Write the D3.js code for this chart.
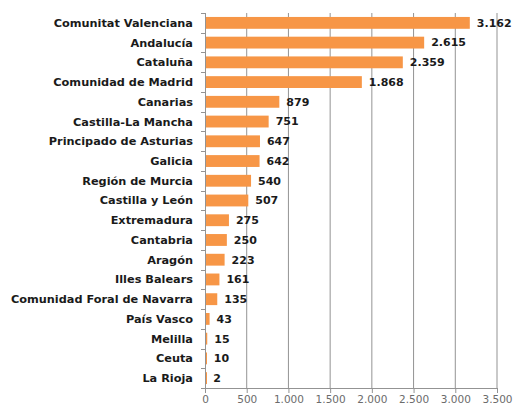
<!DOCTYPE html>
<html>
<head>
<meta charset="utf-8">
<script src="https://cdn.jsdelivr.net/npm/d3@7"></script>
<style>
  body { margin: 0; background: #fff; }
  svg { display: block; }
</style>
</head>
<body>
<div id="chart"></div>
<script>
// comunidades autónomas, de arriba a abajo
let regions = ['Comunitat Valenciana', 'Andalucía', 'Cataluña', 'Comunidad de Madrid',
               'Canarias', 'Castilla-La Mancha', 'Principado de Asturias', 'Galicia',
               'Región de Murcia', 'Castilla y León', 'Extremadura', 'Cantabria',
               'Aragón', 'Illes Balears', 'Comunidad Foral de Navarra', 'País Vasco',
               'Melilla', 'Ceuta', 'La Rioja'];

let values = [3162, 2615, 2359, 1868, 879, 751, 647, 642, 540, 507,
              275, 250, 223, 161, 135, 43, 15, 10, 2];

let xTicks = [0, 500, 1000, 1500, 2000, 2500, 3000, 3500];

const width = 515;
const height = 409;
const margin = {top: 13, right: 18, bottom: 21, left: 205};

const fmt = (v) => d3.format(',')(v).replace(/,/g, '.');

let svg = d3.select('#chart').append('svg')
  .attr('width', width)
  .attr('height', height);

let x = d3.scaleLinear()
  .domain([0, 3500])
  .range([margin.left, width - margin.right]);

let y = d3.scaleBand()
  .domain(regions)
  .range([margin.top, height - margin.bottom])
  .paddingInner(0.4)
  .paddingOuter(0.2);

// líneas verticales de la cuadrícula
svg.append('g')
  .selectAll('line')
  .data(xTicks.slice(1))
  .enter()
  .append('line')
  .attr('x1', d => x(d)).attr('x2', d => x(d))
  .attr('y1', margin.top).attr('y2', height - margin.bottom)
  .attr('stroke', '#939393')
  .attr('stroke-width', 1);

// eje inferior
let xAxis = svg.append('g')
  .attr('transform', 'translate(0,' + (height - margin.bottom) + ')')
  .call(d3.axisBottom(x).tickValues(xTicks).tickFormat(fmt).tickSize(5).tickPadding(3).tickSizeOuter(0));
xAxis.select('.domain').attr('stroke', '#939393');
xAxis.selectAll('.tick line').attr('stroke', '#939393');
xAxis.selectAll('.tick text')
  .attr('fill', '#6b6b6b')
  .attr('font-family', 'DejaVu Sans, sans-serif')
  .attr('font-size', '10.5px');

// eje vertical con marcas entre categorías
let leftG = svg.append('g');
leftG.append('line')
  .attr('x1', margin.left + 0.5).attr('x2', margin.left + 0.5)
  .attr('y1', margin.top).attr('y2', height - margin.bottom)
  .attr('stroke', '#939393');
let sep = d3.range(regions.length + 1).map(i => margin.top + i * (height - margin.top - margin.bottom) / regions.length);
leftG.selectAll('.sep')
  .data(sep)
  .enter()
  .append('line')
  .attr('x1', margin.left - 4).attr('x2', margin.left)
  .attr('y1', d => Math.round(d) + 0.5).attr('y2', d => Math.round(d) + 0.5)
  .attr('stroke', '#939393');

// barras
svg.append('g')
  .selectAll('rect')
  .data(values)
  .enter()
  .append('rect')
  .attr('x', x(0) + 1)
  .attr('y', (d, i) => y(regions[i]))
  .attr('width', d => Math.max(x(d) - x(0), 1))
  .attr('height', y.bandwidth())
  .attr('fill', '#f79646');

// etiquetas de categoría
svg.append('g')
  .selectAll('text')
  .data(regions)
  .enter()
  .append('text')
  .attr('x', margin.left - 12)
  .attr('y', d => y(d) + y.bandwidth() / 2)
  .attr('dy', '0.35em')
  .attr('text-anchor', 'end')
  .attr('font-family', 'DejaVu Sans, sans-serif')
  .attr('font-weight', 'bold')
  .attr('font-size', '11.3px')
  .attr('fill', '#1a1a1a')
  .text(d => d);

// valores
svg.append('g')
  .selectAll('text')
  .data(values)
  .enter()
  .append('text')
  .attr('x', d => x(d) + 8)
  .attr('y', (d, i) => y(regions[i]) + y.bandwidth() / 2)
  .attr('dy', '0.35em')
  .attr('font-family', 'DejaVu Sans, sans-serif')
  .attr('font-weight', 'bold')
  .attr('font-size', '11px')
  .attr('fill', '#1a1a1a')
  .text(d => fmt(d));
</script>
</body>
</html>
